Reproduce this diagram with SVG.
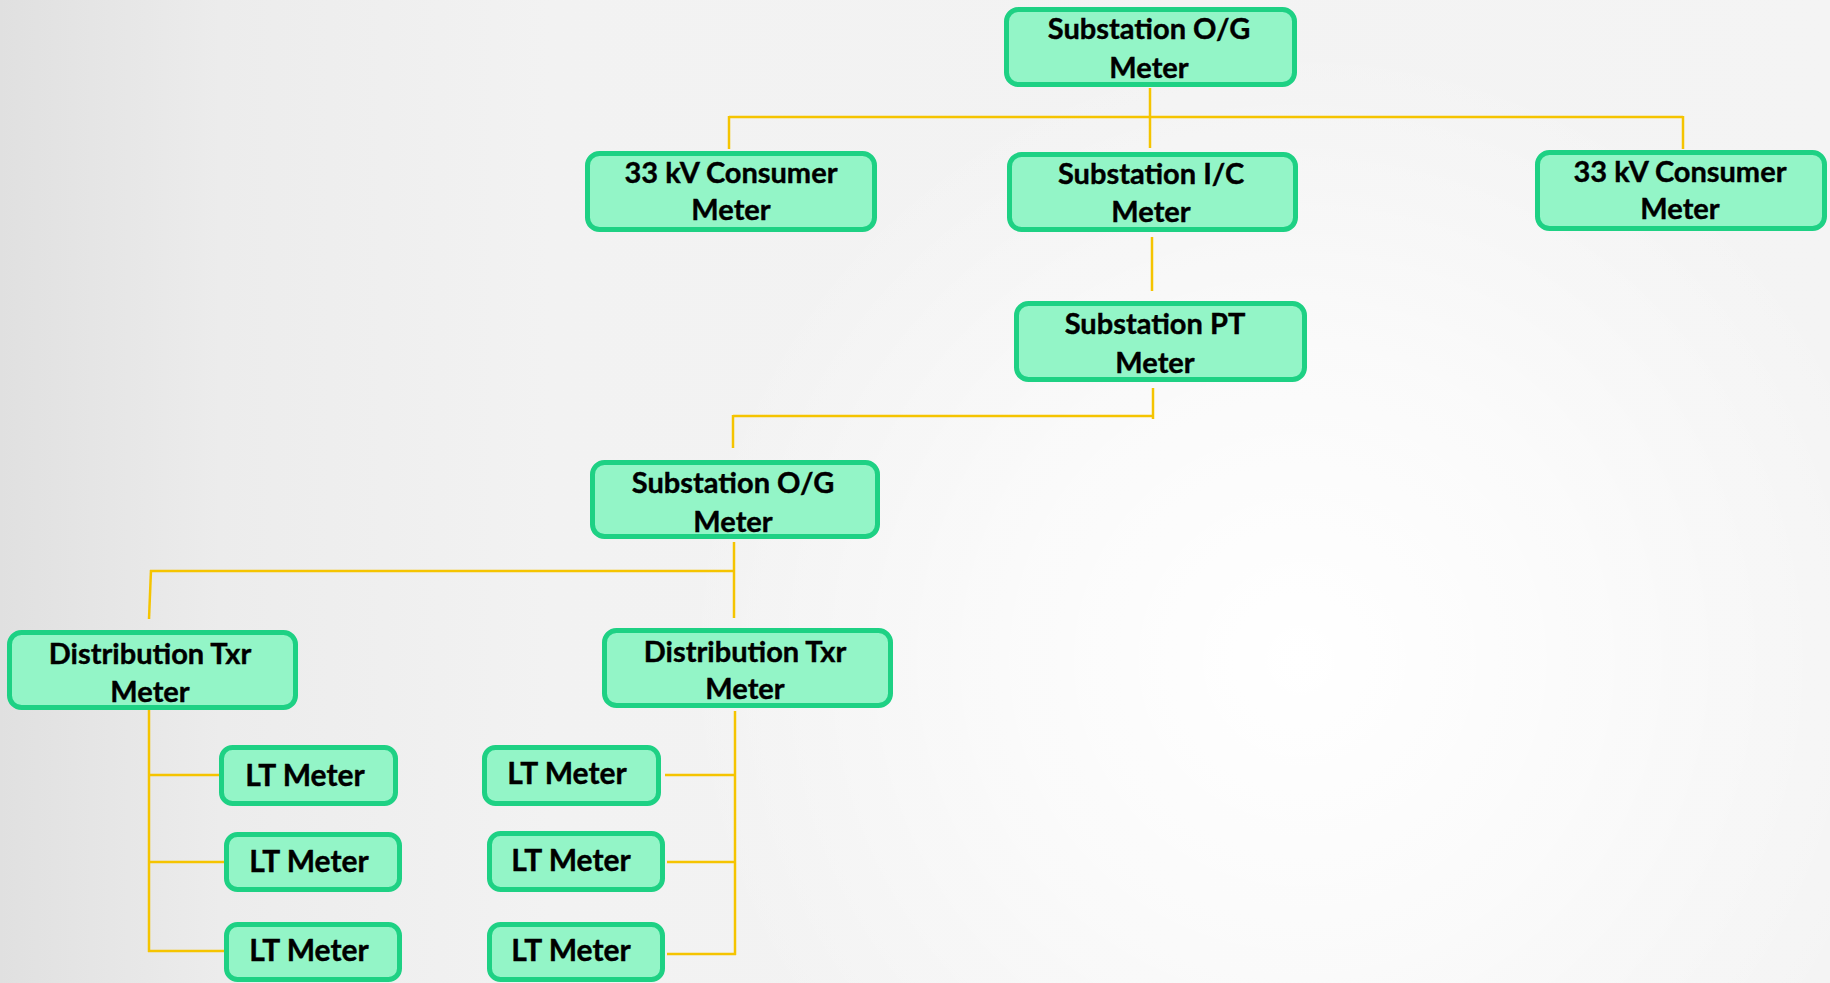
<svg xmlns="http://www.w3.org/2000/svg" width="1830" height="983" viewBox="0 0 1830 983">
  <defs>
    <linearGradient id="bgL" x1="0" y1="0" x2="1" y2="0">
      <stop offset="0" stop-color="#e0e0e0"/>
      <stop offset="0.12" stop-color="#ececec"/>
      <stop offset="0.3" stop-color="#f2f2f2"/>
      <stop offset="1" stop-color="#f4f4f4"/>
    </linearGradient>
    <radialGradient id="glow" cx="1300" cy="660" r="620" gradientUnits="userSpaceOnUse">
      <stop offset="0" stop-color="#ffffff" stop-opacity="1"/>
      <stop offset="0.5" stop-color="#ffffff" stop-opacity="0.6"/>
      <stop offset="1" stop-color="#ffffff" stop-opacity="0"/>
    </radialGradient>
  </defs>
  <style>
    .box { fill: #93f5c7; stroke: #1ed184; stroke-width: 5; }
    .t { font-family: "Lato", "Liberation Sans", sans-serif; font-weight: 700; font-size: 29px; fill: #000; text-anchor: middle; stroke: #000; stroke-width: 0.4; }
    .lt { font-size: 30px; }
    .c line { stroke: #f5c400; stroke-width: 2.5; fill: none; }
  </style>
  <rect x="0" y="0" width="1830" height="983" fill="url(#bgL)"/>
  <rect x="0" y="0" width="1830" height="983" fill="url(#glow)"/>

  <g id="connectors" class="c">
    <line x1="1150" y1="88" x2="1150" y2="148"/>
    <line x1="729" y1="117" x2="1683" y2="117"/>
    <line x1="729" y1="116" x2="729" y2="149"/>
    <line x1="1683" y1="116" x2="1683" y2="149"/>
    <line x1="1152" y1="237" x2="1152" y2="291"/>
    <line x1="1153" y1="388" x2="1153" y2="419"/>
    <line x1="733" y1="416" x2="1153" y2="416"/>
    <line x1="733" y1="415" x2="733" y2="448"/>
    <line x1="734" y1="542" x2="734" y2="618"/>
    <line x1="150" y1="571" x2="734" y2="571"/>
    <line x1="151" y1="570" x2="149" y2="619"/>
    <line x1="149" y1="710" x2="149" y2="952"/>
    <line x1="149" y1="775" x2="219" y2="775"/>
    <line x1="149" y1="862" x2="224" y2="862"/>
    <line x1="148" y1="951" x2="224" y2="951"/>
    <line x1="735" y1="711" x2="735" y2="955"/>
    <line x1="665" y1="775" x2="735" y2="775"/>
    <line x1="667" y1="862" x2="735" y2="862"/>
    <line x1="667" y1="954" x2="736" y2="954"/>
  </g>

  <g id="n1">
    <rect class="box" x="1006.5" y="9.5" width="288" height="75" rx="12"/>
    <text class="t" x="1149" y="39">Substation O/G</text>
    <text class="t" x="1149" y="78">Meter</text>
  </g>
  <g id="n2">
    <rect class="box" x="587.5" y="153.5" width="287" height="76" rx="12"/>
    <text class="t" x="731" y="183">33 kV Consumer</text>
    <text class="t" x="731" y="220">Meter</text>
  </g>
  <g id="n3">
    <rect class="box" x="1009.5" y="154.5" width="286" height="75" rx="12"/>
    <text class="t" x="1151" y="184">Substation I/C</text>
    <text class="t" x="1151" y="222">Meter</text>
  </g>
  <g id="n4">
    <rect class="box" x="1537.5" y="152.5" width="287" height="76" rx="12"/>
    <text class="t" x="1680" y="182">33 kV Consumer</text>
    <text class="t" x="1680" y="219">Meter</text>
  </g>
  <g id="n5">
    <rect class="box" x="1016.5" y="303.5" width="288" height="76" rx="12"/>
    <text class="t" x="1155" y="334">Substation PT</text>
    <text class="t" x="1155" y="373">Meter</text>
  </g>
  <g id="n6">
    <rect class="box" x="592.5" y="462.5" width="285" height="74" rx="12"/>
    <text class="t" x="733" y="493">Substation O/G</text>
    <text class="t" x="733" y="532">Meter</text>
  </g>
  <g id="n7">
    <rect class="box" x="9.5" y="632.5" width="286" height="75" rx="12"/>
    <text class="t" x="150" y="664">Distribution Txr</text>
    <text class="t" x="150" y="702">Meter</text>
  </g>
  <g id="n8">
    <rect class="box" x="604.5" y="630.5" width="286" height="75" rx="12"/>
    <text class="t" x="745" y="662">Distribution Txr</text>
    <text class="t" x="745" y="699">Meter</text>
  </g>
  <g id="n9">
    <rect class="box" x="221.5" y="747.5" width="174" height="56" rx="11"/>
    <text class="t lt" x="305" y="786">LT Meter</text>
  </g>
  <g id="n10">
    <rect class="box" x="226.5" y="834.5" width="173" height="55" rx="11"/>
    <text class="t lt" x="309" y="872">LT Meter</text>
  </g>
  <g id="n11">
    <rect class="box" x="226.5" y="924.5" width="173" height="55" rx="11"/>
    <text class="t lt" x="309" y="961">LT Meter</text>
  </g>
  <g id="n12">
    <rect class="box" x="484.5" y="747.5" width="174" height="56" rx="11"/>
    <text class="t lt" x="567" y="784">LT Meter</text>
  </g>
  <g id="n13">
    <rect class="box" x="489.5" y="833.5" width="173" height="56" rx="11"/>
    <text class="t lt" x="571" y="871">LT Meter</text>
  </g>
  <g id="n14">
    <rect class="box" x="489.5" y="924.5" width="173" height="55" rx="11"/>
    <text class="t lt" x="571" y="961">LT Meter</text>
  </g>
</svg>
